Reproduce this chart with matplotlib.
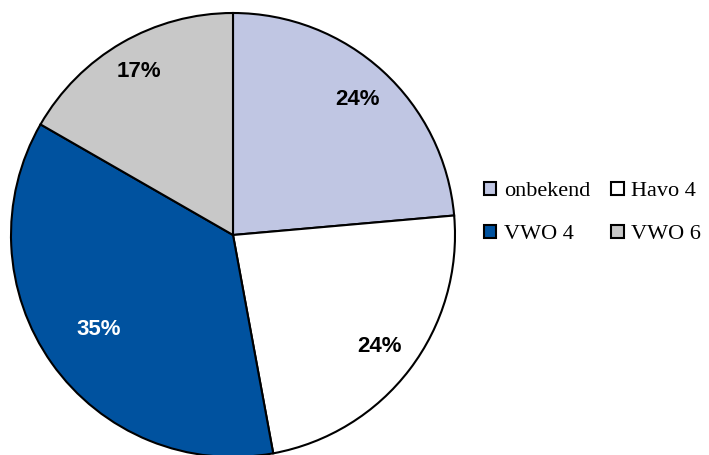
import matplotlib
matplotlib.use("Agg")
import matplotlib.pyplot as plt
from matplotlib.patches import Patch

categories = ["onbekend", "Havo 4", "VWO 4", "VWO 6"]
values = [23.6, 23.5, 36.2, 16.7]
pct_labels = ["24%", "24%", "35%", "17%"]
colors = ["#C0C6E3", "#FFFFFF", "#00529F", "#C8C8C8"]
label_colors = ["black", "black", "white", "black"]
label_dist = [0.83, 0.83, 0.74, 0.85]

fig = plt.figure(figsize=(7.09, 4.55), dpi=100)
W, H = 709, 455
ax = fig.add_axes([11 / W, (H - 457) / H, 444 / W, 444 / H])
ax.set_xlim(-1, 1)
ax.set_ylim(-1, 1)
ax.set_aspect("equal")
ax.axis("off")

wedges, texts = ax.pie(values, colors=colors, startangle=90, counterclock=False,
                       radius=1, center=(0, 0), frame=False,
                       wedgeprops=dict(edgecolor="black", linewidth=1.5),
                       labels=pct_labels, labeldistance=1.0,
                       textprops=dict(fontsize=16, fontweight="bold",
                                      family="Liberation Sans"))
for t, c, d in zip(texts, label_colors, label_dist):
    x, y = t.get_position()
    t.set_position((x * d, y * d))
    t.set_color(c)
    t.set_ha("center")
    t.set_va("center")
ax.set_xlim(-1, 1)
ax.set_ylim(-1, 1)

handles = [Patch(facecolor=c, edgecolor="black", linewidth=1.5) for c in colors]
order = [0, 2, 1, 3]
leg = fig.legend([handles[i] for i in order], [categories[i] for i in order],
                 ncol=2, loc="center left", bbox_to_anchor=(484 / W, 1 - 213 / H),
                 frameon=False, borderpad=0, borderaxespad=0,
                 handlelength=0.55, handleheight=0.55,
                 handletextpad=0.35, columnspacing=0.95, labelspacing=1.05,
                 prop=dict(family="Liberation Serif", size=16))

fig.savefig("out.png", dpi=100)
